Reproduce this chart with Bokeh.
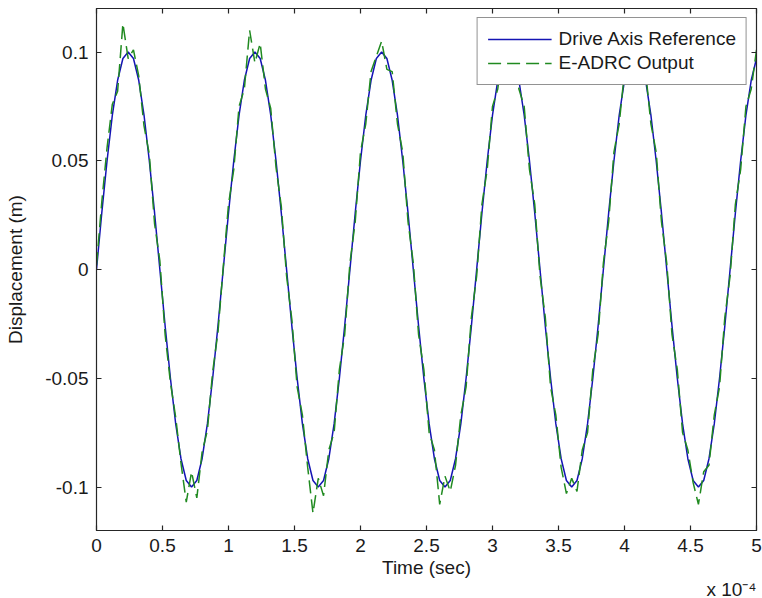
from bokeh.plotting import figure
from bokeh.models import (Range1d, LinearAxis, FixedTicker, Legend, LegendItem,
                          CustomLabelingPolicy, Title)
from bokeh.embed import file_html
from bokeh.resources import INLINE

# time in units of 1e-4 s
time_e4 = [0.00, 0.04, 0.08, 0.12, 0.16, 0.20, 0.24, 0.28, 0.32, 0.36, 0.40, 0.44,
           0.48, 0.52, 0.56, 0.60, 0.64, 0.68, 0.72, 0.76, 0.80, 0.84, 0.88, 0.92,
           0.96, 1.00, 1.04, 1.08, 1.12, 1.16, 1.20, 1.24, 1.28, 1.32, 1.36, 1.40,
           1.44, 1.48, 1.52, 1.56, 1.60, 1.64, 1.68, 1.72, 1.76, 1.80, 1.84, 1.88,
           1.92, 1.96, 2.00, 2.04, 2.08, 2.12, 2.16, 2.20, 2.24, 2.28, 2.32, 2.36,
           2.40, 2.44, 2.48, 2.52, 2.56, 2.60, 2.64, 2.68, 2.72, 2.76, 2.80, 2.84,
           2.88, 2.92, 2.96, 3.00, 3.04, 3.08, 3.12, 3.16, 3.20, 3.24, 3.28, 3.32,
           3.36, 3.40, 3.44, 3.48, 3.52, 3.56, 3.60, 3.64, 3.68, 3.72, 3.76, 3.80,
           3.84, 3.88, 3.92, 3.96, 4.00, 4.04, 4.08, 4.12, 4.16, 4.20, 4.24, 4.28,
           4.32, 4.36, 4.40, 4.44, 4.48, 4.52, 4.56, 4.60, 4.64, 4.68, 4.72, 4.76,
           4.80, 4.84, 4.88, 4.92, 4.96, 5.00]

reference = [0.000, 0.026, 0.050, 0.071, 0.087, 0.097, 0.100, 0.097, 0.087, 0.071, 0.050, 0.026,
             0.000, -0.026, -0.050, -0.071, -0.087, -0.097, -0.100, -0.097, -0.087, -0.071, -0.050, -0.026,
             0.000, 0.026, 0.050, 0.071, 0.087, 0.097, 0.100, 0.097, 0.087, 0.071, 0.050, 0.026,
             0.000, -0.026, -0.050, -0.071, -0.087, -0.097, -0.100, -0.097, -0.087, -0.071, -0.050, -0.026,
             0.000, 0.026, 0.050, 0.071, 0.087, 0.097, 0.100, 0.097, 0.087, 0.071, 0.050, 0.026,
             0.000, -0.026, -0.050, -0.071, -0.087, -0.097, -0.100, -0.097, -0.087, -0.071, -0.050, -0.026,
             0.000, 0.026, 0.050, 0.071, 0.087, 0.097, 0.100, 0.097, 0.087, 0.071, 0.050, 0.026,
             0.000, -0.026, -0.050, -0.071, -0.087, -0.097, -0.100, -0.097, -0.087, -0.071, -0.050, -0.026,
             0.000, 0.026, 0.050, 0.071, 0.087, 0.097, 0.100, 0.097, 0.087, 0.071, 0.050, 0.026,
             0.000, -0.026, -0.050, -0.071, -0.087, -0.097, -0.100, -0.097, -0.087, -0.071, -0.050, -0.026,
             0.000, 0.026, 0.050, 0.071, 0.087, 0.097]

eadrc = [0.002, 0.031, 0.056, 0.076, 0.082, 0.113, 0.097, 0.101, 0.089, 0.066, 0.053, 0.021,
         0.004, -0.030, -0.052, -0.068, -0.089, -0.107, -0.093, -0.105, -0.084, -0.074, -0.047, -0.029,
         0.001, 0.030, 0.046, 0.075, 0.083, 0.110, 0.095, 0.104, 0.083, 0.074, 0.047, 0.029,
         -0.003, -0.023, -0.054, -0.067, -0.091, -0.112, -0.096, -0.104, -0.083, -0.075, -0.046, -0.030,
         0.003, 0.022, 0.054, 0.067, 0.091, 0.098, 0.105, 0.092, 0.091, 0.067, 0.054, 0.022,
         0.003, -0.030, -0.046, -0.075, -0.083, -0.108, -0.095, -0.102, -0.090, -0.067, -0.054, -0.022,
         -0.003, 0.030, 0.046, 0.075, 0.083, 0.102, 0.096, 0.102, 0.083, 0.075, 0.046, 0.030,
         -0.003, -0.022, -0.054, -0.067, -0.091, -0.103, -0.096, -0.102, -0.083, -0.075, -0.046, -0.030,
         0.003, 0.022, 0.054, 0.067, 0.091, 0.098, 0.103, 0.093, 0.091, 0.067, 0.054, 0.022,
         0.003, -0.030, -0.046, -0.075, -0.083, -0.098, -0.108, -0.093, -0.090, -0.067, -0.054, -0.022,
         -0.003, 0.030, 0.046, 0.075, 0.083, 0.101]

x_ticks = [0, 0.5, 1, 1.5, 2, 2.5, 3, 3.5, 4, 4.5, 5]
x_tick_labels = ["0", "0.5", "1", "1.5", "2", "2.5", "3", "3.5", "4", "4.5", "5"]
y_ticks = [-0.1, -0.05, 0, 0.05, 0.1]
y_tick_labels = ["-0.1", "-0.05", "0", "0.05", "0.1"]
x_multiplier = "x 10\u207b\u2074"

FONT = "Liberation Sans"
FS = "19px"
INK = "#1a1a1a"
AXC = "#262626"

p = figure(width=762, height=598, x_range=Range1d(0, 5), y_range=Range1d(-0.12, 0.12),
           output_backend="svg", toolbar_location=None,
           min_border_left=96, min_border_right=6, min_border_top=8, min_border_bottom=68)
p.grid.visible = False
p.outline_line_color = AXC
p.outline_line_width = 1.2
p.background_fill_color = "white"
p.border_fill_color = "white"

no_labels = CustomLabelingPolicy(code="""
for (const i of Array.from(indices)) { indices.unset(i) }
return indices
""")

def style_axis(ax, ticks, labels, show_labels=True):
    ax.ticker = FixedTicker(ticks=ticks)
    ax.major_label_overrides = {t: l for t, l in zip(ticks, labels)}
    ax.major_tick_in = 5
    ax.major_tick_out = 0
    ax.minor_tick_in = 0
    ax.minor_tick_out = 0
    ax.axis_line_color = AXC
    ax.major_tick_line_color = AXC
    ax.major_tick_line_width = 1.2
    ax.major_label_text_font = FONT
    ax.major_label_text_font_size = FS if show_labels else "1px"
    ax.major_label_text_color = INK
    ax.axis_label_text_font = FONT
    ax.axis_label_text_font_size = FS
    ax.axis_label_text_font_style = "normal"
    ax.axis_label_text_color = INK
    if not show_labels:
        ax.major_label_policy = no_labels
        ax.major_label_standoff = 0

xa = p.xaxis[0]
style_axis(xa, x_ticks, x_tick_labels)
xa.axis_label = "Time (sec)"
xa.major_label_standoff = 8
xa.axis_label_standoff = 2

ya = p.yaxis[0]
style_axis(ya, y_ticks, y_tick_labels)
ya.axis_label = "Displacement (m)"
ya.major_label_standoff = 8
ya.axis_label_standoff = 16

top = LinearAxis()
style_axis(top, x_ticks, x_tick_labels, show_labels=False)
p.add_layout(top, "above")

right = LinearAxis()
style_axis(right, y_ticks, y_tick_labels, show_labels=False)
p.add_layout(right, "right")

# "x 10^-4" multiplier, right-aligned under the x axis
mult = Title(text=x_multiplier, align="right", text_font=FONT, text_font_size=FS,
             text_font_style="normal", text_color=INK, standoff=-8)
p.add_layout(mult, "below")

r1 = p.line(time_e4, reference, line_color="#1414b4", line_width=1.5)
r2 = p.line(time_e4, eadrc, line_color="#208a20", line_width=1.5, line_dash="13 6")

legend = Legend(items=[LegendItem(label="Drive Axis Reference", renderers=[r1]),
                       LegendItem(label="E-ADRC Output", renderers=[r2])],
                location="top_right", margin=9)
legend.label_text_font = FONT
legend.label_text_font_size = FS
legend.label_text_color = INK
legend.border_line_color = AXC
legend.border_line_width = 1.2
legend.background_fill_alpha = 1.0
legend.glyph_width = 64
legend.glyph_height = 22
legend.label_height = 22
legend.label_standoff = 7
legend.padding = 10
legend.spacing = 2
p.add_layout(legend)

open("out.html", "w").write(file_html(p, INLINE))
